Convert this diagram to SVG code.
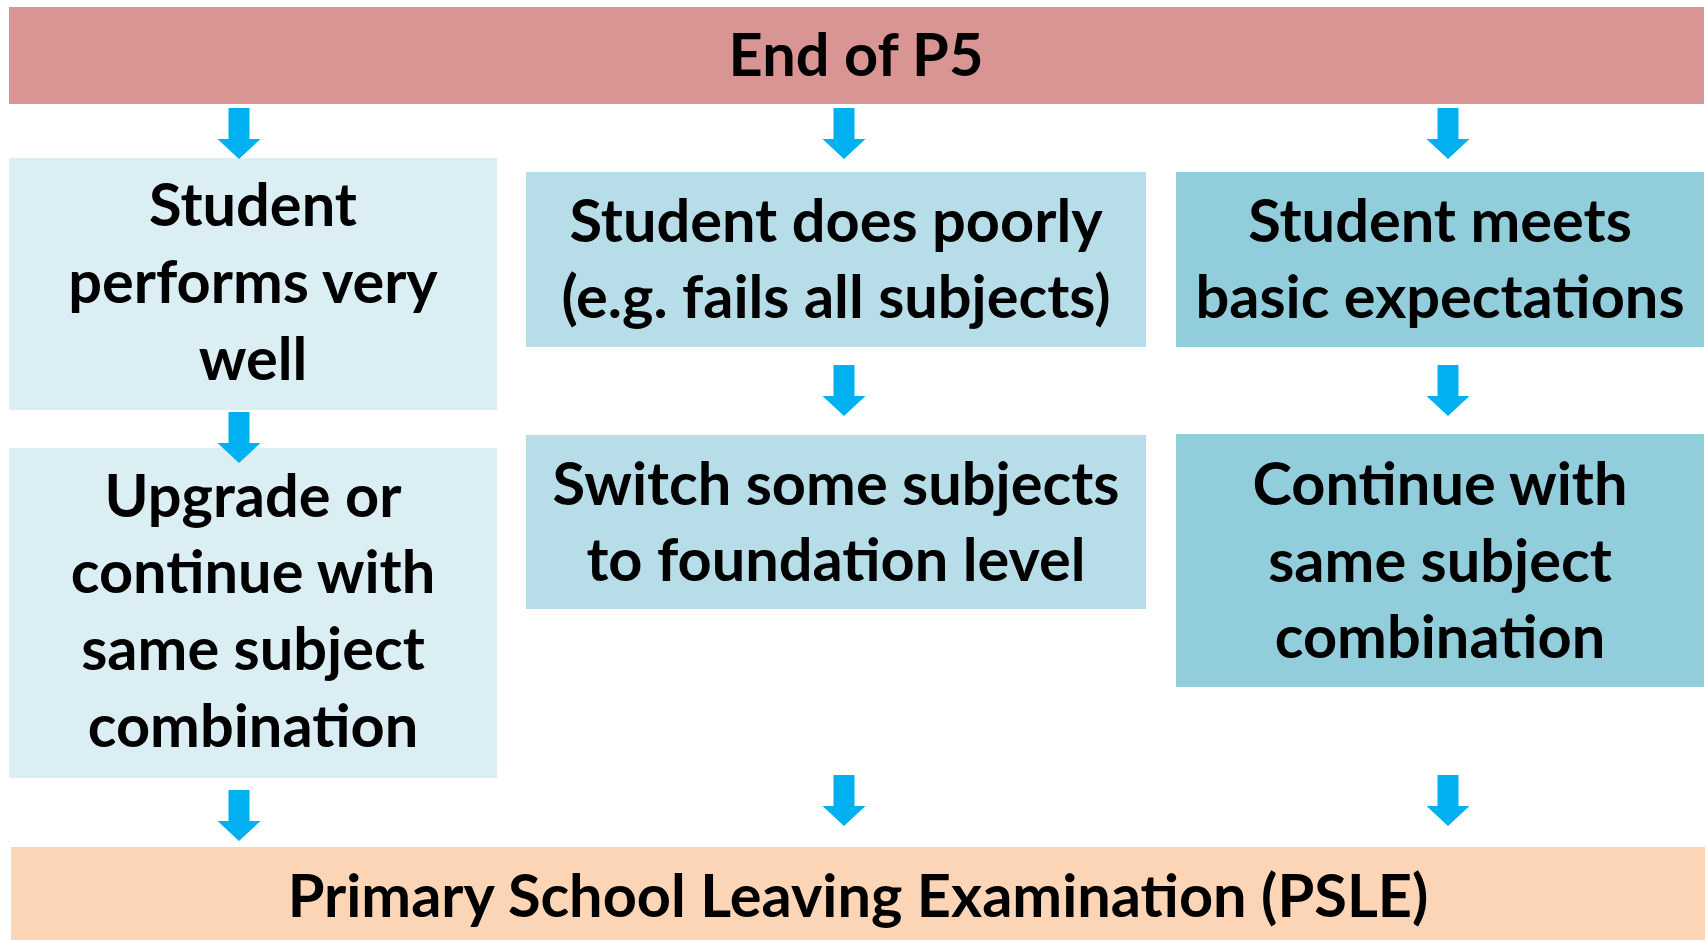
<svg xmlns="http://www.w3.org/2000/svg" width="1707" height="940" viewBox="0 0 1707 940">
<defs>
<style>
.t{font-family:Lato,"Liberation Sans",sans-serif;font-weight:700;font-size:59.5px;fill:#000;text-anchor:middle}
.a{fill:#00B0F0}
</style>
<path id="arr" d="M-10.5,0 H10.5 V31 H21.5 L0,51 L-21.5,31 H-10.5 Z"/>
</defs>
<rect width="1707" height="940" fill="#fff"/>
<g id="end-p5">
<rect x="9" y="7" width="1695" height="97" fill="#D99594"/>
<text class="t" x="856" y="76">End of P5</text>
</g>
<g id="very-well">
<rect x="9" y="158" width="488" height="252" fill="#DAEEF3"/>
<text class="t" x="253" y="226">Student</text>
<text class="t" x="253" y="303">performs very</text>
<text class="t" x="253" y="380">well</text>
</g>
<g id="upgrade">
<rect x="9" y="448" width="488" height="330" fill="#DAEEF3"/>
<text class="t" x="253" y="517">Upgrade or</text>
<text class="t" x="253" y="593">continue with</text>
<text class="t" x="253" y="670">same subject</text>
<text class="t" x="253" y="747">combination</text>
</g>
<g id="poorly">
<rect x="526" y="172" width="620" height="175" fill="#B7DDE8"/>
<text class="t" x="836" y="242">Student does poorly</text>
<text class="t" x="836" y="318">(e.g. fails all subjects)</text>
</g>
<g id="switch">
<rect x="526" y="435" width="620" height="174" fill="#B7DDE8"/>
<text class="t" x="836" y="505">Switch some subjects</text>
<text class="t" x="836" y="581">to foundation level</text>
</g>
<g id="basic">
<rect x="1176" y="172" width="528" height="175" fill="#92CDDC"/>
<text class="t" x="1440" y="242">Student meets</text>
<text class="t" x="1440" y="318">basic expectations</text>
</g>
<g id="continue">
<rect x="1176" y="434" width="528" height="253" fill="#92CDDC"/>
<text class="t" x="1440" y="505">Continue with</text>
<text class="t" x="1440" y="582">same subject</text>
<text class="t" x="1440" y="658">combination</text>
</g>
<g id="psle">
<rect x="11" y="847" width="1694" height="93" fill="#FBD5B5"/>
<text class="t" x="858" y="917">Primary School Leaving Examination (PSLE)</text>
</g>
<g id="connectors" class="a">
<use href="#arr" x="239" y="108"/>
<use href="#arr" x="844" y="108"/>
<use href="#arr" x="1448" y="108"/>
<use href="#arr" x="239" y="412"/>
<use href="#arr" x="844" y="365"/>
<use href="#arr" x="1448" y="365"/>
<use href="#arr" x="239" y="790"/>
<use href="#arr" x="844" y="775"/>
<use href="#arr" x="1448" y="775"/>
</g>
</svg>
